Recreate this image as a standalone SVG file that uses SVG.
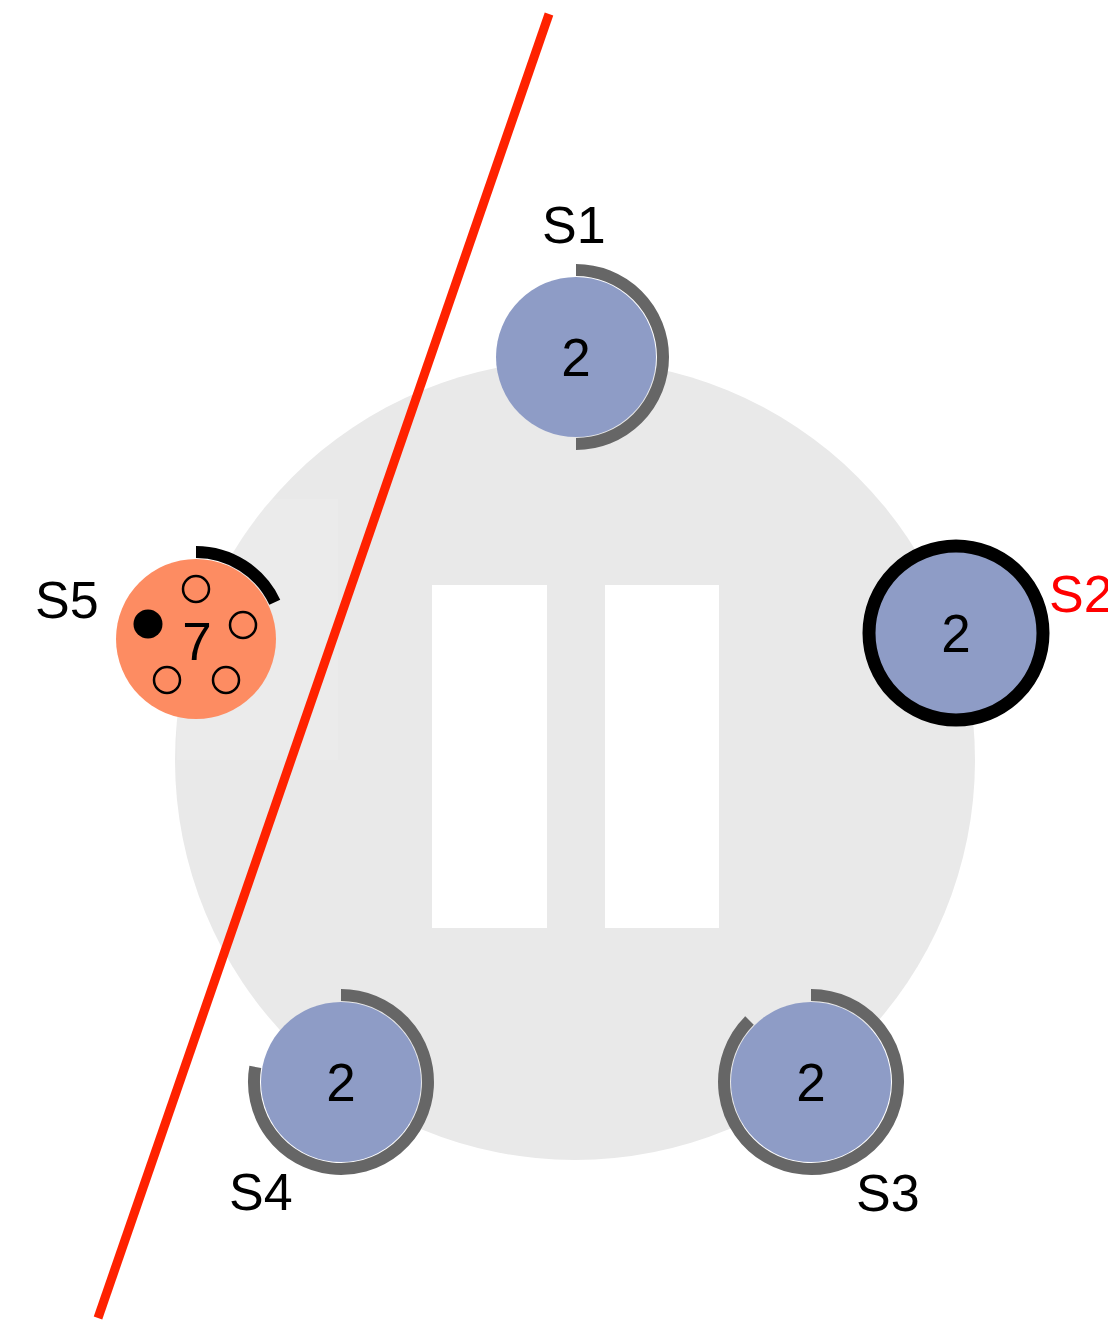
<svg xmlns="http://www.w3.org/2000/svg" width="1108" height="1321" viewBox="0 0 1108 1321">
  <style>
    .lbl { font-family: "Liberation Sans", Arial, sans-serif; font-size: 52px; fill: #000; }
    .num { font-family: "Liberation Sans", Arial, sans-serif; font-size: 53px; fill: #000; text-anchor: middle; }
    .body { fill: #8e9cc6; }
    .ring { fill: none; stroke: #666; stroke-width: 12; }
    .pin { fill: none; stroke: #000; stroke-width: 2.5; }
  </style>
  <rect width="1108" height="1321" fill="#fff"/>

  <!-- table -->
  <g id="table">
    <circle cx="575" cy="760" r="400" fill="#e9e9e9"/>
    <rect x="177" y="499" width="161" height="261" fill="#fff" fill-opacity="0.12"/>
    <rect x="432" y="585" width="115" height="343" fill="#fff"/>
    <rect x="605" y="585" width="114" height="343" fill="#fff"/>
  </g>

  <!-- seat S1 -->
  <g id="s1">
    <circle class="body" cx="576" cy="357" r="80"/>
    <path class="ring" d="M576 270 A87 87 0 0 1 576 444"/>
    <text class="num" x="576" y="376">2</text>
    <text class="lbl" x="542" y="243">S1</text>
  </g>

  <!-- seat S2 -->
  <g id="s2">
    <circle cx="956" cy="633" r="87" fill="#8e9cc6" stroke="#000" stroke-width="13"/>
    <text class="num" x="956" y="652">2</text>
    <text class="lbl" x="1049" y="612" fill="#ff0000" style="fill:#ff0000">S2</text>
  </g>

  <!-- seat S3 -->
  <g id="s3">
    <circle class="body" cx="811" cy="1082" r="80"/>
    <path class="ring" d="M811 995 A87 87 0 1 1 749.5 1020.5"/>
    <text class="num" x="811" y="1101">2</text>
    <text class="lbl" x="856" y="1211">S3</text>
  </g>

  <!-- seat S4 -->
  <g id="s4">
    <circle class="body" cx="341" cy="1082" r="80"/>
    <path class="ring" d="M341 995 A87 87 0 1 1 255.3 1066.9"/>
    <text class="num" x="341" y="1101">2</text>
    <text class="lbl" x="229" y="1210">S4</text>
  </g>

  <!-- seat S5 -->
  <g id="s5">
    <circle cx="196" cy="639" r="80" fill="#fd8c62"/>
    <path d="M196 552 A87 87 0 0 1 274.8 602.2" fill="none" stroke="#000" stroke-width="12"/>
    <circle class="pin" cx="196" cy="589" r="13"/>
    <circle class="pin" cx="243" cy="625" r="13"/>
    <circle class="pin" cx="167" cy="680" r="13"/>
    <circle class="pin" cx="226" cy="680" r="13"/>
    <circle cx="148" cy="624" r="14.5" fill="#000"/>
    <text class="num" x="197" y="660">7</text>
    <text class="lbl" x="35" y="618">S5</text>
  </g>

  <!-- dividing line -->
  <g id="connectors">
    <line x1="549" y1="14" x2="98" y2="1318" stroke="#ff2200" stroke-width="9"/>
  </g>
</svg>
